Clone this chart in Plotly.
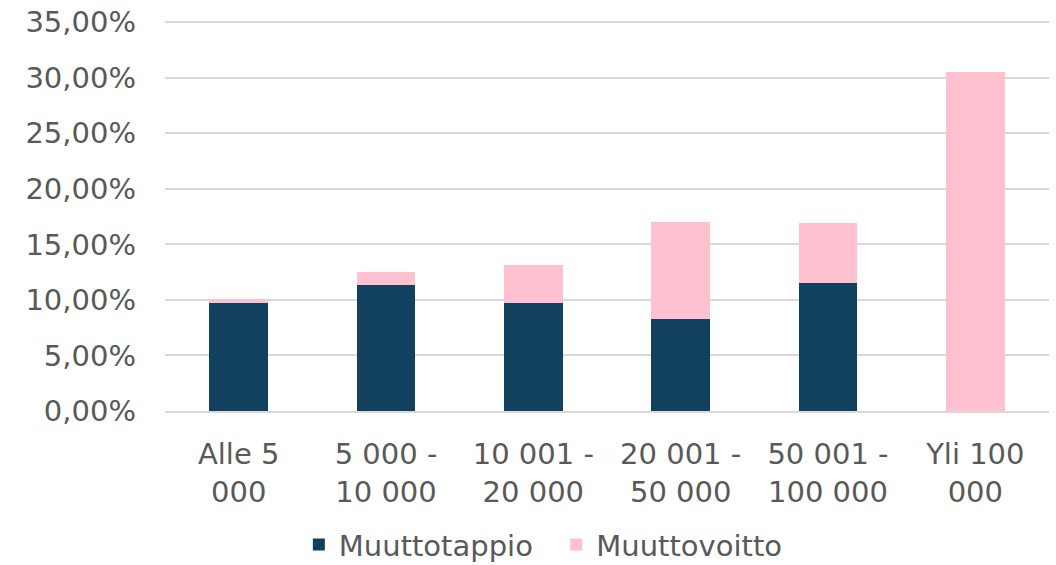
import plotly.graph_objects as go

# Data
categories   = ['Alle 5<br>000', '5 000 -<br>10 000', '10 001 -<br>20 000', '20 001 -<br>50 000', '50 001 -<br>100 000', 'Yli 100<br>000']
muuttotappio = [9.70, 11.38, 9.70, 8.28, 11.51, 0.0]
muuttovoitto = [0.35, 1.12, 3.43, 8.74, 5.38, 30.55]
yTicks       = [0, 5, 10, 15, 20, 25, 30, 35]
yTickText    = [f'{v:.2f}'.replace('.', ',') + '%' for v in yTicks]

# Plot
fontFamily = 'DejaVu Sans'
textColor  = '#595959'

fig = go.Figure()
fig.add_trace(go.Bar(x=categories, y=muuttotappio, name='Muuttotappio\u00a0\u00a0', marker=dict(color='#12415F', line=dict(width=0))))
fig.add_trace(go.Bar(x=categories, y=muuttovoitto, name='Muuttovoitto', marker=dict(color='#FFC0CF', line=dict(width=0))))

fig.update_layout(
    barmode='stack', bargap=0.6,
    width=1056, height=565,
    margin=dict(l=165, r=7, t=20, b=154, autoexpand=False),
    paper_bgcolor='white', plot_bgcolor='white',
    font=dict(family=fontFamily, size=29, color=textColor),
    legend=dict(orientation='h', xref='paper', x=0.428, xanchor='center', yref='container', y=0.036, yanchor='middle',
                font=dict(size=29, color=textColor), itemwidth=30, traceorder='normal'),
)
# range a bit above 35 so the top gridline is not dropped at the edge
fig.update_yaxes(range=[0, 35.2], tickvals=yTicks, ticktext=yTickText, showgrid=True, gridcolor='#D9D9D9', gridwidth=2,
                 zeroline=False, showline=False, ticks='', ticklabelstandoff=28, ticklabeloverflow='allow', automargin=False)
fig.update_xaxes(showline=True, linecolor='#D9D9D9', linewidth=2, ticks='', ticklabelstandoff=16, automargin=False)

# drop the default 8px page margin so the figure fills the window
fig.write_html("out.html", config={'displayModeBar': False}, post_script="document.body.style.margin = '0';")
